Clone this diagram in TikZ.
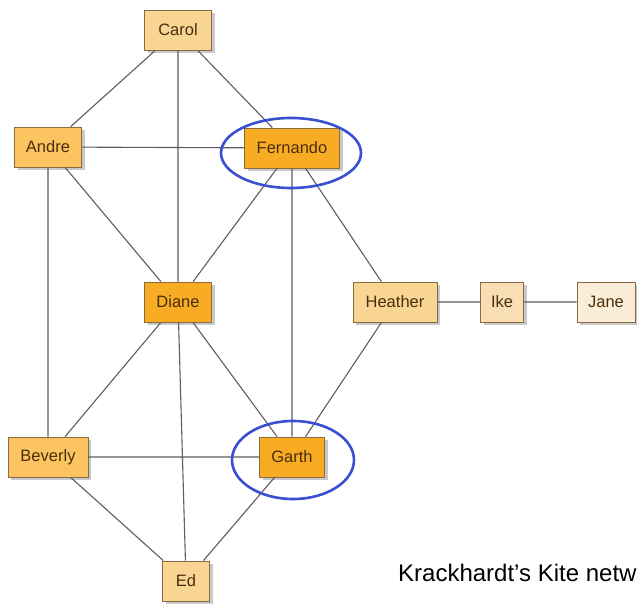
\documentclass[tikz,border=0pt]{standalone}
\usepackage{fontspec}
\setmainfont{Liberation Sans}
\usetikzlibrary{shadows,shapes.geometric}
\definecolor{dark}{HTML}{F8AC24}
\definecolor{mid}{HTML}{FBC460}
\definecolor{light}{HTML}{F9D594}
\definecolor{pale}{HTML}{F8DDB5}
\definecolor{paler}{HTML}{FAEDD8}
\definecolor{bord}{HTML}{8A6A3E}
\definecolor{txt}{HTML}{4A2E0C}
\definecolor{edgec}{HTML}{5E5E5E}
\definecolor{ring}{HTML}{3A4FD2}
\tikzset{
  person/.style={draw=bord, line width=0.8pt, minimum height=40pt, inner sep=0pt,
    text=txt, font=\fontsize{16.5}{16.5}\selectfont,
    drop shadow={shadow xshift=3pt, shadow yshift=-3pt, opacity=0.35, fill=black!60}},
  tie/.style={draw=edgec, line width=1.1pt},
  halo/.style={draw=ring, line width=2.6pt}
}
\begin{document}
\begin{tikzpicture}[x=1pt,y=-1pt]
\useasboundingbox (0,0) rectangle (637,604);
\fill[white] (0,0) rectangle (637,604);
\clip (0,0) rectangle (637,604);
% nodes
\node[person, fill=light, minimum width=67pt] (carol) at (178,30) {Carol};
\node[person, fill=mid, minimum width=67pt] (andre) at (48,147) {Andre};
\node[person, fill=dark, minimum width=95pt] (fernando) at (292,148) {Fernando};
\node[person, fill=dark, minimum width=67pt] (diane) at (178,302) {Diane};
\node[person, fill=light, minimum width=84pt] (heather) at (395,302) {Heather};
\node[person, fill=pale, minimum width=43pt] (ike) at (502,302) {Ike};
\node[person, fill=paler, minimum width=58pt] (jane) at (606,302) {Jane};
\node[person, fill=mid, minimum width=80pt] (beverly) at (48,457) {Beverly};
\node[person, fill=dark, minimum width=65pt] (garth) at (292,457) {Garth};
\node[person, fill=light, minimum width=47pt] (ed) at (186,581) {Ed};
% edges
\path[tie]
  (andre) -- (carol)
  (andre) -- (fernando)
  (andre) -- (diane)
  (andre) -- (beverly)
  (carol) -- (diane)
  (carol) -- (fernando)
  (fernando) -- (diane)
  (fernando) -- (garth)
  (fernando) -- (heather)
  (diane) -- (beverly)
  (diane) -- (garth)
  (diane) -- (ed)
  (beverly) -- (garth)
  (beverly) -- (ed)
  (garth) -- (ed)
  (garth) -- (heather)
  (heather) -- (ike)
  (ike) -- (jane);
% highlight rings
\node[halo, ellipse, minimum width=140pt, minimum height=70pt] (ringf) at (291,153) {};
\node[halo, ellipse, minimum width=122pt, minimum height=78pt] (ringg) at (293,460) {};
% caption
\node[anchor=west, font=\fontsize{24}{24}\selectfont, text=black, inner sep=0pt] (cap) at (398,573) {Krackhardt’s Kite netw};
\end{tikzpicture}
\end{document}
